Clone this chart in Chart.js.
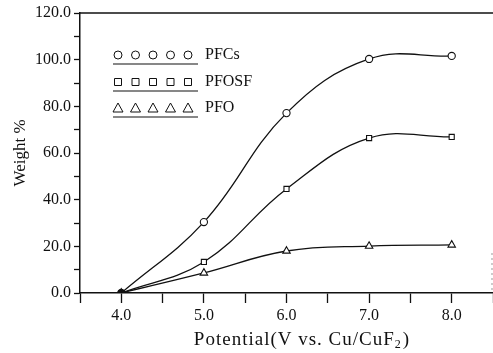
<!DOCTYPE html>
<html>
<head>
<meta charset="utf-8">
<script src="https://cdn.jsdelivr.net/npm/chart.js@4/dist/chart.umd.min.js"></script>
<style>
  html, body { margin: 0; padding: 0; background: #fff; overflow: hidden; }
  #wrap { width: 493px; height: 353px; position: relative; }
</style>
</head>
<body>
<div id="wrap"><canvas id="weight-chart"></canvas></div>
<script>
// potential (V vs. Cu/CuF2)
const potentials = [4.0, 5.0, 6.0, 7.0, 8.0];
// weight % for each product
const pfcsValues = [0, 30.4, 77.1, 100.3, 101.6];
const pfosfValues = [0, 13.3, 44.6, 66.4, 66.9];
const pfoValues = [0, 8.6, 18.0, 20.1, 20.6];

const seriesNames = ['PFCs', 'PFOSF', 'PFO'];
const seriesMarkers = ['circle', 'rect', 'triangle'];

const serif = "'Liberation Serif', 'DejaVu Serif', serif";

function toPoints(values) {
    return potentials.map((p, i) => ({ x: p, y: values[i] }));
}

function makeDataset(name, values, marker) {
    return {
        label: name,
        data: toPoints(values),
        borderColor: '#111',
        borderWidth: 1.3,
        pointStyle: marker,
        pointRadius: marker === 'triangle' ? 4.3 : 3.6,
        pointBorderWidth: 1.1,
        pointBorderColor: '#111',
        pointBackgroundColor: ctx => ctx.dataIndex === 0 ? '#111' : '#fff',
        tension: 0.4,
        fill: false
    };
}

// legend inside the plot (rows of markers with a rule under each) + x title with subscript
const decorPlugin = {
    id: 'decor',
    afterDraw(chart) {
        const c = chart.ctx;
        const area = chart.chartArea;
        const rowsY = [55, 82, 108];
        c.save();
        c.strokeStyle = '#111';
        c.fillStyle = '#111';
        c.font = '16px ' + serif;
        c.textBaseline = 'middle';
        seriesNames.forEach((name, r) => {
            const y = rowsY[r];
            for (let k = 0; k < 5; k++) {
                const x = 118 + k * 17.5;
                c.lineWidth = 1;
                c.beginPath();
                if (seriesMarkers[r] === 'circle') {
                    c.arc(x, y, 4, 0, Math.PI * 2);
                } else if (seriesMarkers[r] === 'rect') {
                    c.rect(x - 3.5, y - 3.5, 7, 7);
                } else {
                    c.moveTo(x - 5, y + 4);
                    c.lineTo(x + 5, y + 4);
                    c.lineTo(x, y - 5);
                    c.closePath();
                }
                c.stroke();
            }
            c.lineWidth = 1.2;
            c.beginPath();
            c.moveTo(113, y + 9);
            c.lineTo(198, y + 9);
            c.stroke();
            c.fillText(name, 205, y);
        });

        // x axis title, subscript drawn smaller
        const main = 'Potential(V vs. Cu/CuF';
        const sub = '2';
        const tail = ')';
        c.letterSpacing = '1px';
        c.font = '19px ' + serif;
        const wMain = c.measureText(main).width;
        const wTail = c.measureText(tail).width;
        c.font = '12px ' + serif;
        const wSub = c.measureText(sub).width;
        const total = wMain + wSub + 1 + wTail;
        let tx = 302 - total / 2;
        const ty = 340;
        c.textAlign = 'left';
        c.font = '19px ' + serif;
        c.fillText(main, tx, ty);
        tx += wMain;
        c.font = '12px ' + serif;
        c.fillText(sub, tx, ty + 5);
        tx += wSub + 1;
        c.font = '19px ' + serif;
        c.fillText(tail, tx, ty);
        c.letterSpacing = '0px';

        // top frame line
        c.lineWidth = 1.5;
        c.beginPath();
        c.moveTo(area.left, area.top);
        c.lineTo(area.right, area.top);
        c.stroke();
        // faint dashed right edge near the bottom
        c.lineWidth = 1;
        c.strokeStyle = '#999';
        c.setLineDash([2, 3]);
        c.beginPath();
        c.moveTo(area.right - 1, area.bottom - 40);
        c.lineTo(area.right - 1, area.bottom);
        c.stroke();
        c.restore();
    }
};

new Chart(document.getElementById('weight-chart'), {
    type: 'line',
    data: {
        datasets: [
            makeDataset(seriesNames[0], pfcsValues, seriesMarkers[0]),
            makeDataset(seriesNames[1], pfosfValues, seriesMarkers[1]),
            makeDataset(seriesNames[2], pfoValues, seriesMarkers[2])
        ]
    },
    options: {
        responsive: true,
        maintainAspectRatio: false,
        animation: false,
        layout: { autoPadding: false, padding: { top: 13, right: 0, left: 0, bottom: 0 } },
        plugins: {
            legend: { display: false },
            tooltip: { enabled: false }
        },
        scales: {
            x: {
                type: 'linear',
                min: 3.5,
                max: 8.5,
                afterFit(axis) {
                    axis.height = 60;
                    axis.paddingLeft = 0;
                    axis.paddingRight = 0;
                },
                border: { display: true, color: '#111', width: 1.5 },
                grid: { drawOnChartArea: false, drawTicks: true, tickLength: 10, tickColor: '#111', tickWidth: 1.3 },
                ticks: {
                    stepSize: 0.5,
                    color: '#111',
                    padding: 3,
                    maxRotation: 0,
                    autoSkip: false,
                    font: { family: serif, size: 16 },
                    callback: v => Number.isInteger(v) ? v.toFixed(1) : ''
                },
                title: { display: false }
            },
            y: {
                min: 0,
                max: 120,
                afterFit(axis) { axis.width = 80; },
                border: { display: true, color: '#111', width: 1.5 },
                grid: { drawOnChartArea: false, drawTicks: true, tickLength: 6, tickColor: '#111', tickWidth: 1.3 },
                ticks: {
                    stepSize: 10,
                    color: '#111',
                    padding: 3,
                    autoSkip: false,
                    font: { family: serif, size: 16 },
                    callback: v => v % 20 === 0 ? v.toFixed(1) : ''
                },
                title: {
                    display: true,
                    text: 'Weight %',
                    color: '#111',
                    font: { family: serif, size: 17 },
                    padding: { top: 10, bottom: 0 }
                }
            }
        }
    },
    plugins: [decorPlugin]
});
</script>
</body>
</html>
